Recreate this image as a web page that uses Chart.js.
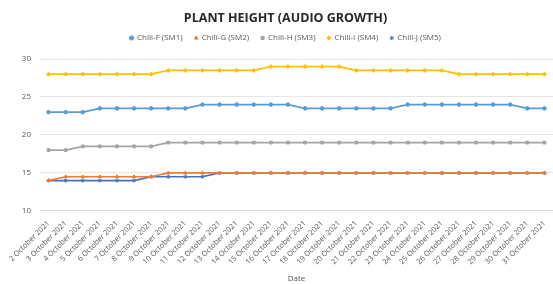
<!DOCTYPE html>
<html>
<head>
<meta charset="utf-8">
<script src="https://cdn.jsdelivr.net/npm/chart.js@4"></script>
<style>
  body { margin: 0; background: #fff; }
  #wrap { width: 553px; height: 284px; }
</style>
</head>
<body>
<div id="wrap"><canvas id="heightChart"></canvas></div>
<script>
const dates = [];
for (let d = 2; d <= 31; d++) dates.push(d + ' October 2021');

const chiliF = [23, 23, 23, 23.5, 23.5, 23.5, 23.5, 23.5, 23.5, 24, 24, 24, 24, 24, 24, 23.5, 23.5, 23.5, 23.5, 23.5, 23.5, 24, 24, 24, 24, 24, 24, 24, 23.5, 23.5];
const chiliG = [14, 14.5, 14.5, 14.5, 14.5, 14.5, 14.5, 15, 15, 15, 15, 15, 15, 15, 15, 15, 15, 15, 15, 15, 15, 15, 15, 15, 15, 15, 15, 15, 15, 15];
const chiliH = [18, 18, 18.5, 18.5, 18.5, 18.5, 18.5, 19, 19, 19, 19, 19, 19, 19, 19, 19, 19, 19, 19, 19, 19, 19, 19, 19, 19, 19, 19, 19, 19, 19];
const chiliI = [28, 28, 28, 28, 28, 28, 28, 28.5, 28.5, 28.5, 28.5, 28.5, 28.5, 29, 29, 29, 29, 29, 28.5, 28.5, 28.5, 28.5, 28.5, 28.5, 28, 28, 28, 28, 28, 28];
const chiliJ = [14, 14, 14, 14, 14, 14, 14.5, 14.5, 14.5, 14.5, 15, 15, 15, 15, 15, 15, 15, 15, 15, 15, 15, 15, 15, 15, 15, 15, 15, 15, 15, 15];

const yTicks = [10, 15, 20, 25, 30];

function series(label, data, color, style) {
  return {
    label: label,
    data: data,
    borderColor: color,
    backgroundColor: color,
    borderWidth: 1.7,
    pointStyle: style,
    pointRadius: style === 'circle' ? 1.8 : 2,
    pointBorderWidth: 1,
    tension: 0
  };
}

const textGray = '#595959';

// a bit of extra room under the legend
const legendGap = {
  id: 'legendGap',
  beforeInit(chart) {
    const fit = chart.legend.fit;
    chart.legend.fit = function () {
      fit.call(this);
      this.height += 7;
    };
  }
};

new Chart(document.getElementById('heightChart'), {
  type: 'line',
  data: {
    labels: dates,
    datasets: [
      series('Chili-F (SM1)', chiliF, '#5B9BD5', 'circle'),
      series('Chili-G (SM2)', chiliG, '#ED7D31', 'triangle'),
      series('Chili-H (SM3)', chiliH, '#A5A5A5', 'rect'),
      series('Chili-I (SM4)', chiliI, '#FFC000', 'rectRot'),
      series('Chili-J (SM5)', chiliJ, '#4472C4', 'star')
    ]
  },
  plugins: [legendGap],
  options: {
    responsive: true,
    maintainAspectRatio: false,
    animation: false,
    layout: { autoPadding: false, padding: { left: 18, right: 0, top: 11, bottom: 0 } },
    plugins: {
      title: {
        display: true,
        text: 'PLANT HEIGHT (AUDIO GROWTH)',
        color: '#262626',
        font: { family: 'Open Sans', size: 12.5, weight: 'bold' },
        padding: { top: 0, bottom: -4 }
      },
      legend: {
        labels: {
          usePointStyle: true,
          boxWidth: 3,
          boxHeight: 3,
          padding: 12,
          color: textGray,
          font: { family: 'Open Sans', size: 8 }
        }
      },
      tooltip: { enabled: false }
    },
    scales: {
      x: {
        offset: true,
        afterFit: (axis) => { axis.paddingLeft = 0; axis.paddingRight = 0; },
        grid: { display: false },
        border: { color: '#D9D9D9' },
        ticks: {
          autoSkip: false,
          maxRotation: 45,
          minRotation: 45,
          color: textGray,
          font: { family: 'Open Sans', size: 7.5 },
          padding: 0
        },
        title: {
          display: true,
          text: 'Date',
          color: textGray,
          font: { family: 'Open Sans', size: 8 },
          padding: { top: 8, bottom: 0 }
        }
      },
      y: {
        min: 10,
        max: 30,
        afterBuildTicks: (axis) => { axis.ticks = yTicks.map(v => ({ value: v })); },
        afterFit: (axis) => { axis.width = 22; },
        grid: { color: '#E6E6E6', drawTicks: false },
        border: { display: false },
        ticks: {
          color: textGray,
          font: { family: 'Open Sans', size: 8 },
          padding: 9
        }
      }
    }
  }
});
</script>
</body>
</html>
